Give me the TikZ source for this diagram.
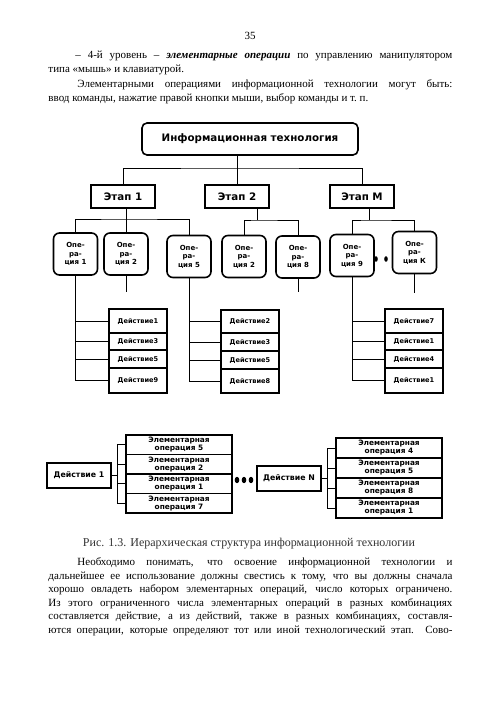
\documentclass[tikz,border=0pt]{standalone}
\usepackage{fontspec}
\setmainfont{Liberation Serif}
\newfontfamily\dfont{DejaVu Sans}
\usetikzlibrary{positioning}

\newcommand{\jline}[2]{\makebox[#1][s]{#2}}

\begin{document}
\begin{tikzpicture}[x=1pt, y=-1pt, line width=0.9pt,
  box/.style={draw, line width=1.6pt, inner sep=1pt, outer sep=0pt, font=\dfont\bfseries\fontsize{10.3}{11}\selectfont},
  top/.style={box, rounded corners=5pt, minimum width=216pt, minimum height=32pt},
  etap/.style={box, minimum width=64pt, minimum height=23pt},
  oper/.style={box, rounded corners=6pt, minimum width=44pt, minimum height=42pt, align=center, font=\dfont\bfseries\fontsize{7}{8.5}\selectfont},
  deist/.style={box, minimum width=58pt, font=\dfont\bfseries\fontsize{6.6}{7}\selectfont},
  elem/.style={box, minimum width=106pt, minimum height=19.5pt, inner sep=0pt, align=center, font=\dfont\bfseries\fontsize{7.4}{8}\selectfont},
  act/.style={box, minimum width=64pt, minimum height=25pt, font=\dfont\bfseries\fontsize{7.8}{8}\selectfont},
  txt/.style={anchor=base west, inner sep=0pt, font=\fontsize{11}{14}\selectfont}]

\fill[white] (0,0) rectangle (500,707);
\useasboundingbox (0,0) rectangle (500,707);

% Text above
\node[anchor=base, inner sep=0pt, font=\fontsize{11}{13}\selectfont] (P) at (250,39) {35};
\node[txt] (L1) at (75,58) {\jline{377pt}{– 4-й уровень – \textbf{\textit{элементарные операции}} по управлению манипулятором}};
\node[txt] (L2) at (48,72.5) {типа «мышь» и клавиатурой.};
\node[txt] (L3) at (77,87) {\jline{375pt}{Элементарными операциями информационной технологии могут быть:}};
\node[txt] (L4) at (48,101.5) {ввод команды, нажатие правой кнопки мыши, выбор команды и т.~п.};

% Nodes
\node[top] (IT) at (250,139) {Информационная технология};
\node[etap] (E1) at (123,196.5) {Этап 1};
\node[etap] (E2) at (237,196.5) {Этап 2};
\node[etap] (EM) at (362,196.5) {Этап М};

\node[oper] (O1) at (75.5,254) {Опе-\\ра-\\ция 1};
\node[oper] (O2) at (126,254) {Опе-\\ра-\\ция 2};
\node[oper] (O3) at (189,256.5) {Опе-\\ра-\\ция 5};
\node[oper] (O4) at (244,256.5) {Опе-\\ра-\\ция 2};
\node[oper] (O5) at (298,257) {Опе-\\ра-\\ция 8};
\node[oper] (O6) at (352,255.5) {Опе-\\ра-\\ция 9};
\node[oper] (O7) at (414.5,252.5) {Опе-\\ра-\\ция К};

\node[deist, minimum height=24pt] (A1) at (138,321) {Действие1};
\node[deist, minimum height=17pt, below=0pt of A1] (A2) {Действие3};
\node[deist, minimum height=18pt, below=0pt of A2] (A3) {Действие5};
\node[deist, minimum height=25pt, below=0pt of A3] (A4) {Действие9};

\node[deist, minimum height=23pt] (B1) at (250,321.5) {Действие2};
\node[deist, minimum height=18pt, below=0pt of B1] (B2) {Действие3};
\node[deist, minimum height=18pt, below=0pt of B2] (B3) {Действие5};
\node[deist, minimum height=24pt, below=0pt of B3] (B4) {Действие8};

\node[deist, minimum height=24pt] (C1) at (414,321) {Действие7};
\node[deist, minimum height=17pt, below=0pt of C1] (C2) {Действие1};
\node[deist, minimum height=18pt, below=0pt of C2] (C3) {Действие4};
\node[deist, minimum height=25pt, below=0pt of C3] (C4) {Действие1};

\node[act] (D1) at (79,475.5) {Действие 1};
\node[elem] (P1) at (179,444.75) {Элементарная\\операция 5};
\node[elem, below=0pt of P1] (P2) {Элементарная\\операция 2};
\node[elem, below=0pt of P2] (P3) {Элементарная\\операция 1};
\node[elem, below=0pt of P3] (P4) {Элементарная\\операция 7};

\node[act] (DN) at (289,478.5) {Действие N};
\node[elem, minimum height=20pt] (Q1) at (389,448) {Элементарная\\операция 4};
\node[elem, minimum height=20pt, below=0pt of Q1] (Q2) {Элементарная\\операция 5};
\node[elem, minimum height=20pt, below=0pt of Q2] (Q3) {Элементарная\\операция 8};
\node[elem, minimum height=20pt, below=0pt of Q3] (Q4) {Элементарная\\операция 1};

\coordinate (b0) at (237,168);
\coordinate (b1) at (126,219);
\coordinate (b2) at (257,220);
\coordinate (b3) at (369,220);
\coordinate[below=17pt of O2] (s1);
\coordinate[below=14pt of O5] (s2);
\coordinate[below=19pt of O7] (s3);

% Edges
\draw (IT.south -| E2.north) -- (E2.north);
\draw (E1.north) |- (b0) -| (EM.north);
\draw (E1.south -| b1) -- (O2.north);
\draw (O1.north) |- (b1) -| (O3.north);
\draw (E2.south -| b2) -- (b2);
\draw (O4.north) |- (b2) -| (O5.north);
\draw (EM.south -| b3) -- (b3);
\draw (O6.north) |- (b3) -| (O7.north);
\draw (O2.south) -- (s1);
\draw (O5.south) -- (s2);
\draw (O7.south) -- (s3);

\foreach \r in {A1,A2,A3,A4} \draw (O1.south) |- (\r.west);
\foreach \r in {B1,B2,B3,B4} \draw (O3.south) |- (\r.west);
\foreach \r in {C1,C2,C3,C4} \draw (O6.south) |- (\r.west);
\foreach \r in {P1,P2,P3,P4} \draw (D1.east) -- ++(6,0) |- (\r.west);
\foreach \r in {Q1,Q2,Q3,Q4} \draw (DN.east) -- ++(6,0) |- (\r.west);

% Dots
\foreach \x in {376,386} \fill (\x,259) ellipse [x radius=1.8pt, y radius=2.8pt];
\foreach \x in {237,244,251} \fill (\x,480) ellipse [x radius=2.3pt, y radius=3.2pt];

% Text below
\node[anchor=base, inner sep=0pt, text=black!80, font=\fontsize{12}{14}\selectfont] (CAP) at (249,546) {Рис. 1.3. Иерархическая структура информационной технологии};
\node[txt] (M1) at (77,565) {\jline{375pt}{Необходимо понимать, что освоение информационной технологии и}};
\node[txt] (M2) at (48,579) {\jline{404pt}{дальнейшее ее использование должны свестись к тому, что вы должны сначала}};
\node[txt] (M3) at (48,592.5) {\jline{404pt}{хорошо овладеть набором элементарных операций, число которых ограничено.}};
\node[txt] (M4) at (48,606) {\jline{404pt}{Из этого ограниченного числа элементарных операций в разных комбинациях}};
\node[txt] (M5) at (48,619.5) {\jline{404pt}{составляется действие, а из действий, также в разных комбинациях, составля-}};
\node[txt] (M6) at (48,633) {\jline{404pt}{ются операции, которые определяют тот или иной технологический этап. Сово-}};

\end{tikzpicture}
\end{document}
